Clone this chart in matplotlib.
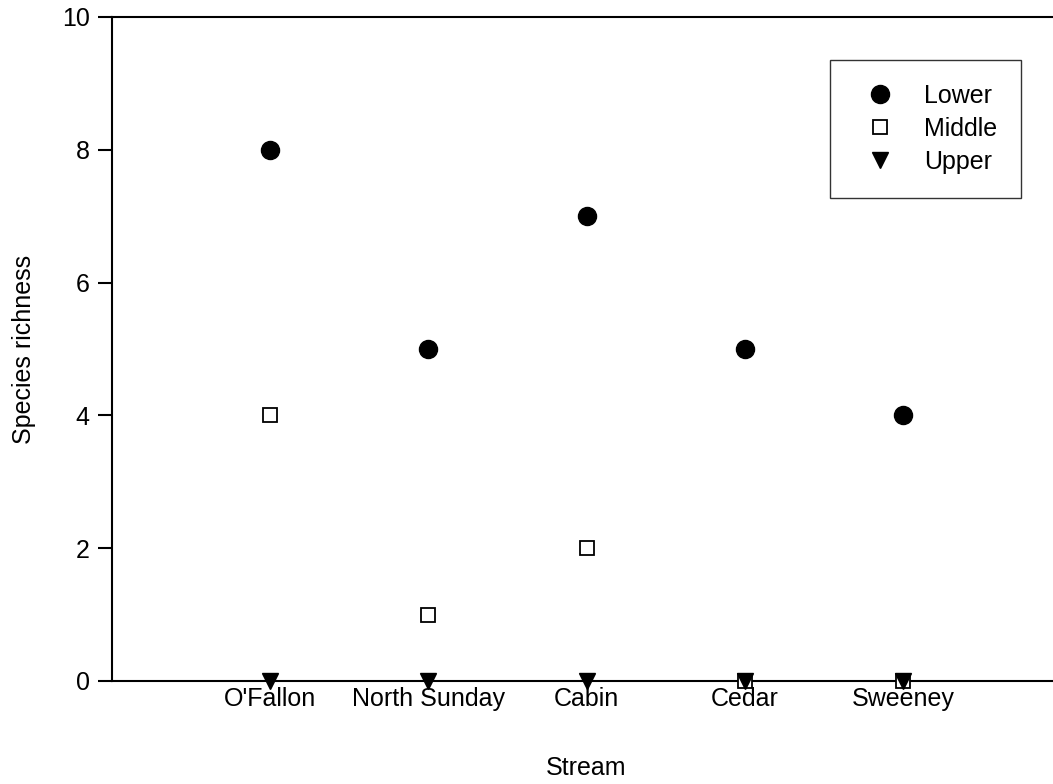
import matplotlib
matplotlib.use("Agg")
import matplotlib.pyplot as plt

streams = ["O'Fallon", "North Sunday", "Cabin", "Cedar", "Sweeney"]
lower = [8, 5, 7, 5, 4]
middle = [4, 1, 2, 0, 0]
upper = [0, 0, 0, 0, 0]
yticks = [0, 2, 4, 6, 8, 10]

plt.rcParams['font.family'] = ['Liberation Sans', 'DejaVu Sans']

fig = plt.figure(figsize=(10.53, 7.84), dpi=100)
W, H = 1053, 784
left_px, right_px = 112, 1061
bot_px, top_px = 681, 17
ax = fig.add_axes([left_px / W, (H - bot_px) / H, (right_px - left_px) / W, (bot_px - top_px) / H])

x = list(range(1, len(streams) + 1))
ax.plot(x, lower, linestyle='none', marker='o', markersize=13, color='black',
        clip_on=False, zorder=3, label='Lower')
ax.plot(x, middle, linestyle='none', marker='s', markersize=10.5, markerfacecolor='white',
        markeredgecolor='black', markeredgewidth=1.3, clip_on=False, zorder=4, label='Middle')
ax.plot(x, upper, linestyle='none', marker='v', markersize=12, color='black',
        clip_on=False, zorder=5, label='Upper')

FS = 18
ax.set_xlim(0, 6)
ax.set_ylim(0, 10)
ax.set_xticks(x)
ax.set_xticklabels(streams, fontsize=FS)
ax.set_yticks(yticks)
ax.set_yticklabels([str(v) for v in yticks], fontsize=FS)
ax.tick_params(axis='x', length=0, pad=4)
ax.tick_params(axis='y', direction='out', length=10, width=1.5, pad=6)

for s in ['left', 'bottom', 'top']:
    ax.spines[s].set_linewidth(1.5)
ax.spines['right'].set_visible(False)

ax.set_xlabel('Stream', fontsize=FS, labelpad=33)
ax.set_ylabel('Species richness', fontsize=FS, labelpad=19)

leg = ax.legend(loc='upper left', bbox_to_anchor=((830 - left_px) / (right_px - left_px),
                                                  1 - (60 - top_px) / (bot_px - top_px)),
                frameon=True, fancybox=False, edgecolor='black', fontsize=FS,
                borderpad=0.95, labelspacing=0.36, handletextpad=0.7, borderaxespad=0,
                handlelength=2.1)
leg.get_frame().set_linewidth(1.0)
leg.get_frame().set_boxstyle('square', pad=0)

fig.savefig('out.png', dpi=100)
